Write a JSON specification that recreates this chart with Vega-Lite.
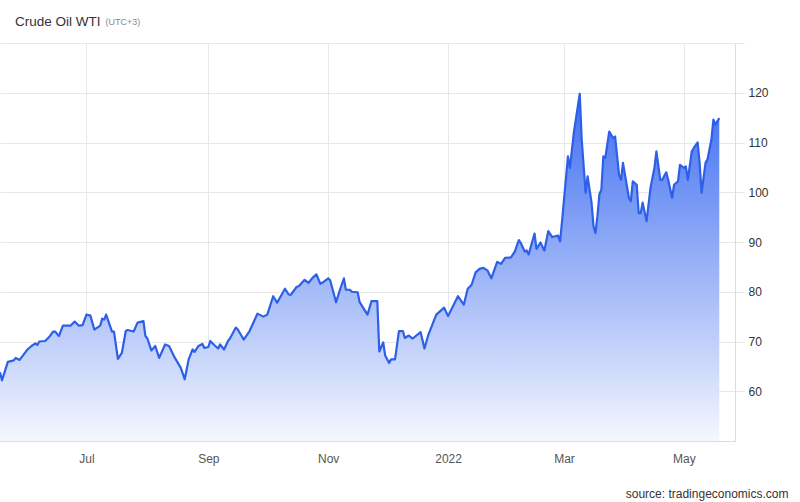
{
  "$schema": "https://vega.github.io/schema/vega-lite/v6.json",
  "width": 735,
  "height": 398,
  "autosize": {"type": "none"},
  "padding": {"left": 0, "top": 43, "right": 65, "bottom": 61},
  "background": "#ffffff",
  "title": {
    "text": "Crude Oil WTI",
    "anchor": "start",
    "frame": "group",
    "dx": 15,
    "offset": -11,
    "font": "Liberation Sans",
    "fontSize": 13.5,
    "fontWeight": "normal",
    "color": "#333333"
  },
  "data": {
    "values": [
      {"d": "2021-05-18", "v": 63.8}, {"d": "2021-05-19", "v": 62.2}, {"d": "2021-05-22", "v": 65.9},
      {"d": "2021-05-25", "v": 66.2}, {"d": "2021-05-26", "v": 66.7}, {"d": "2021-05-28", "v": 66.3},
      {"d": "2021-06-01", "v": 68.4}, {"d": "2021-06-03", "v": 69.1}, {"d": "2021-06-05", "v": 69.6},
      {"d": "2021-06-06", "v": 69.3}, {"d": "2021-06-07", "v": 70.0}, {"d": "2021-06-10", "v": 70.1},
      {"d": "2021-06-12", "v": 70.9}, {"d": "2021-06-14", "v": 72.0}, {"d": "2021-06-15", "v": 72.0},
      {"d": "2021-06-17", "v": 71.1}, {"d": "2021-06-19", "v": 73.2}, {"d": "2021-06-23", "v": 73.2},
      {"d": "2021-06-25", "v": 74.0}, {"d": "2021-06-27", "v": 73.2}, {"d": "2021-06-29", "v": 73.3},
      {"d": "2021-07-01", "v": 75.4}, {"d": "2021-07-03", "v": 75.2}, {"d": "2021-07-05", "v": 72.4},
      {"d": "2021-07-08", "v": 73.2}, {"d": "2021-07-09", "v": 74.6}, {"d": "2021-07-10", "v": 74.4},
      {"d": "2021-07-11", "v": 75.4}, {"d": "2021-07-14", "v": 72.0}, {"d": "2021-07-15", "v": 72.0},
      {"d": "2021-07-17", "v": 66.5}, {"d": "2021-07-19", "v": 67.7}, {"d": "2021-07-21", "v": 72.1},
      {"d": "2021-07-22", "v": 72.3}, {"d": "2021-07-25", "v": 72.0}, {"d": "2021-07-27", "v": 73.8},
      {"d": "2021-07-30", "v": 74.1}, {"d": "2021-07-31", "v": 71.1}, {"d": "2021-08-01", "v": 70.6},
      {"d": "2021-08-03", "v": 68.2}, {"d": "2021-08-05", "v": 69.1}, {"d": "2021-08-07", "v": 66.7},
      {"d": "2021-08-10", "v": 69.4}, {"d": "2021-08-12", "v": 69.1}, {"d": "2021-08-15", "v": 66.7},
      {"d": "2021-08-18", "v": 64.7}, {"d": "2021-08-20", "v": 62.4}, {"d": "2021-08-22", "v": 66.4},
      {"d": "2021-08-24", "v": 68.4}, {"d": "2021-08-25", "v": 67.9}, {"d": "2021-08-27", "v": 69.1},
      {"d": "2021-08-29", "v": 69.5}, {"d": "2021-08-30", "v": 68.7}, {"d": "2021-09-01", "v": 68.9},
      {"d": "2021-09-02", "v": 70.1}, {"d": "2021-09-04", "v": 69.3}, {"d": "2021-09-06", "v": 68.6},
      {"d": "2021-09-07", "v": 69.4}, {"d": "2021-09-09", "v": 68.4}, {"d": "2021-09-11", "v": 70.1},
      {"d": "2021-09-12", "v": 70.6}, {"d": "2021-09-15", "v": 72.8}, {"d": "2021-09-16", "v": 72.4},
      {"d": "2021-09-19", "v": 70.4}, {"d": "2021-09-22", "v": 72.1}, {"d": "2021-09-26", "v": 75.6},
      {"d": "2021-09-29", "v": 75.0}, {"d": "2021-10-01", "v": 75.4}, {"d": "2021-10-04", "v": 79.1},
      {"d": "2021-10-06", "v": 77.8}, {"d": "2021-10-10", "v": 80.6}, {"d": "2021-10-12", "v": 79.4},
      {"d": "2021-10-13", "v": 79.4}, {"d": "2021-10-16", "v": 81.0}, {"d": "2021-10-17", "v": 81.1},
      {"d": "2021-10-20", "v": 82.4}, {"d": "2021-10-22", "v": 81.8}, {"d": "2021-10-24", "v": 82.8},
      {"d": "2021-10-26", "v": 83.5}, {"d": "2021-10-28", "v": 81.6}, {"d": "2021-10-29", "v": 81.8},
      {"d": "2021-11-01", "v": 82.7}, {"d": "2021-11-02", "v": 82.3}, {"d": "2021-11-05", "v": 77.9},
      {"d": "2021-11-07", "v": 80.4}, {"d": "2021-11-09", "v": 82.7}, {"d": "2021-11-10", "v": 80.4},
      {"d": "2021-11-12", "v": 80.4}, {"d": "2021-11-13", "v": 80.0}, {"d": "2021-11-16", "v": 79.9},
      {"d": "2021-11-17", "v": 77.9}, {"d": "2021-11-21", "v": 75.4}, {"d": "2021-11-23", "v": 78.1},
      {"d": "2021-11-26", "v": 78.1}, {"d": "2021-11-27", "v": 68.0}, {"d": "2021-11-29", "v": 69.8},
      {"d": "2021-11-30", "v": 67.2}, {"d": "2021-12-02", "v": 65.7}, {"d": "2021-12-03", "v": 66.4},
      {"d": "2021-12-05", "v": 66.4}, {"d": "2021-12-07", "v": 72.1}, {"d": "2021-12-09", "v": 72.1},
      {"d": "2021-12-10", "v": 70.7}, {"d": "2021-12-12", "v": 71.2}, {"d": "2021-12-14", "v": 70.6},
      {"d": "2021-12-18", "v": 71.9}, {"d": "2021-12-20", "v": 68.6}, {"d": "2021-12-22", "v": 71.4},
      {"d": "2021-12-26", "v": 75.4}, {"d": "2021-12-30", "v": 76.8}, {"d": "2022-01-01", "v": 75.1},
      {"d": "2022-01-06", "v": 79.1}, {"d": "2022-01-09", "v": 77.4}, {"d": "2022-01-11", "v": 80.6},
      {"d": "2022-01-13", "v": 81.4}, {"d": "2022-01-15", "v": 83.9}, {"d": "2022-01-17", "v": 84.6},
      {"d": "2022-01-19", "v": 84.8}, {"d": "2022-01-21", "v": 84.3}, {"d": "2022-01-23", "v": 82.7},
      {"d": "2022-01-26", "v": 86.0}, {"d": "2022-01-28", "v": 85.6}, {"d": "2022-01-30", "v": 86.8},
      {"d": "2022-02-02", "v": 86.9}, {"d": "2022-02-04", "v": 88.1}, {"d": "2022-02-06", "v": 90.4},
      {"d": "2022-02-07", "v": 89.8}, {"d": "2022-02-09", "v": 88.1}, {"d": "2022-02-10", "v": 88.3},
      {"d": "2022-02-11", "v": 87.5}, {"d": "2022-02-14", "v": 91.7}, {"d": "2022-02-15", "v": 88.6},
      {"d": "2022-02-17", "v": 89.9}, {"d": "2022-02-19", "v": 88.3}, {"d": "2022-02-21", "v": 92.2},
      {"d": "2022-02-23", "v": 91.0}, {"d": "2022-02-26", "v": 91.3}, {"d": "2022-02-27", "v": 90.1},
      {"d": "2022-02-28", "v": 94.2}, {"d": "2022-03-03", "v": 107.2}, {"d": "2022-03-04", "v": 104.9},
      {"d": "2022-03-06", "v": 112.0}, {"d": "2022-03-09", "v": 119.8}, {"d": "2022-03-10", "v": 110.6},
      {"d": "2022-03-12", "v": 99.9}, {"d": "2022-03-13", "v": 103.2}, {"d": "2022-03-15", "v": 97.9},
      {"d": "2022-03-16", "v": 93.2}, {"d": "2022-03-17", "v": 91.8}, {"d": "2022-03-18", "v": 95.2},
      {"d": "2022-03-19", "v": 99.6}, {"d": "2022-03-20", "v": 100.5}, {"d": "2022-03-21", "v": 107.2},
      {"d": "2022-03-22", "v": 106.9}, {"d": "2022-03-24", "v": 112.2}, {"d": "2022-03-26", "v": 110.9},
      {"d": "2022-03-27", "v": 111.2}, {"d": "2022-03-29", "v": 103.5}, {"d": "2022-03-30", "v": 102.5},
      {"d": "2022-03-31", "v": 105.9}, {"d": "2022-04-03", "v": 98.9}, {"d": "2022-04-04", "v": 98.2},
      {"d": "2022-04-05", "v": 102.2}, {"d": "2022-04-07", "v": 101.5}, {"d": "2022-04-08", "v": 95.8},
      {"d": "2022-04-09", "v": 95.8}, {"d": "2022-04-10", "v": 97.9}, {"d": "2022-04-12", "v": 94.2},
      {"d": "2022-04-14", "v": 100.9}, {"d": "2022-04-16", "v": 104.9}, {"d": "2022-04-17", "v": 108.2},
      {"d": "2022-04-19", "v": 102.5}, {"d": "2022-04-20", "v": 102.5}, {"d": "2022-04-22", "v": 104.0},
      {"d": "2022-04-23", "v": 102.5}, {"d": "2022-04-25", "v": 98.9}, {"d": "2022-04-26", "v": 101.5},
      {"d": "2022-04-28", "v": 102.2}, {"d": "2022-04-29", "v": 105.5}, {"d": "2022-05-01", "v": 104.9},
      {"d": "2022-05-02", "v": 105.2}, {"d": "2022-05-03", "v": 102.5}, {"d": "2022-05-05", "v": 108.2},
      {"d": "2022-05-06", "v": 108.9}, {"d": "2022-05-08", "v": 110.0}, {"d": "2022-05-09", "v": 105.9},
      {"d": "2022-05-10", "v": 99.9}, {"d": "2022-05-12", "v": 105.9}, {"d": "2022-05-13", "v": 106.6},
      {"d": "2022-05-15", "v": 110.6}, {"d": "2022-05-16", "v": 114.6}, {"d": "2022-05-17", "v": 113.6},
      {"d": "2022-05-19", "v": 114.9}
    ]
  },
  "mark": {
    "type": "area",
    "clip": true,
    "interpolate": "linear",
    "opacity": 1,
    "line": {"color": "#2d5fe8", "strokeWidth": 2.2, "strokeJoin": "round"},
    "color": {
      "gradient": "linear",
      "x1": 1, "y1": 1, "x2": 1, "y2": 0,
      "stops": [
        {"offset": 0, "color": "#f4f7fe"},
        {"offset": 1, "color": "#3f6ef0"}
      ]
    }
  },
  "encoding": {
    "x": {
      "field": "d",
      "type": "temporal",
      "scale": {"type": "utc", "domain": ["2021-05-18", "2022-05-27"]},
      "axis": {
        "values": ["2021-07-01", "2021-09-01", "2021-11-01", "2022-01-01", "2022-03-01", "2022-05-01"],
        "labelExpr": "utcmonth(datum.value) == 0 ? utcFormat(datum.value, '%Y') : utcFormat(datum.value, '%b')",
        "grid": true,
        "gridColor": "#e8e8e8",
        "ticks": false,
        "domain": true,
        "domainColor": "#dcdcdc",
        "labelFont": "Liberation Sans",
        "labelFontSize": 12,
        "labelColor": "#555555",
        "labelPadding": 12,
        "title": "source: tradingeconomics.com",
        "titleFont": "Liberation Sans",
        "titleFontSize": 12,
        "titleFontWeight": "normal",
        "titleColor": "#333333",
        "titleAnchor": null,
        "titleAlign": "right",
        "titleBaseline": "alphabetic",
        "titleX": 788,
        "titleY": 56
      }
    },
    "y": {
      "field": "v",
      "type": "quantitative",
      "scale": {"domain": [50, 130], "zero": false, "nice": false},
      "axis": {
        "orient": "right",
        "values": [60, 70, 80, 90, 100, 110, 120, 130],
        "labelExpr": "datum.value == 130 ? '' : datum.label",
        "grid": true,
        "gridColor": "#e8e8e8",
        "tickColor": "#e8e8e8",
        "tickSize": 9,
        "domain": true,
        "domainColor": "#dcdcdc",
        "labelFont": "Liberation Sans",
        "labelFontSize": 12,
        "labelColor": "#333333",
        "labelPadding": 4,
        "title": "(UTC+3)",
        "titleFont": "Liberation Sans",
        "titleFontSize": 9,
        "titleFontWeight": "normal",
        "titleColor": "#8a8a8a",
        "titleAngle": 0,
        "titleAlign": "left",
        "titleBaseline": "alphabetic",
        "titleAnchor": null,
        "titleX": -630,
        "titleY": -19
      }
    },
    "y2": {"datum": 50}
  },
  "config": {"view": {"stroke": null}}
}
